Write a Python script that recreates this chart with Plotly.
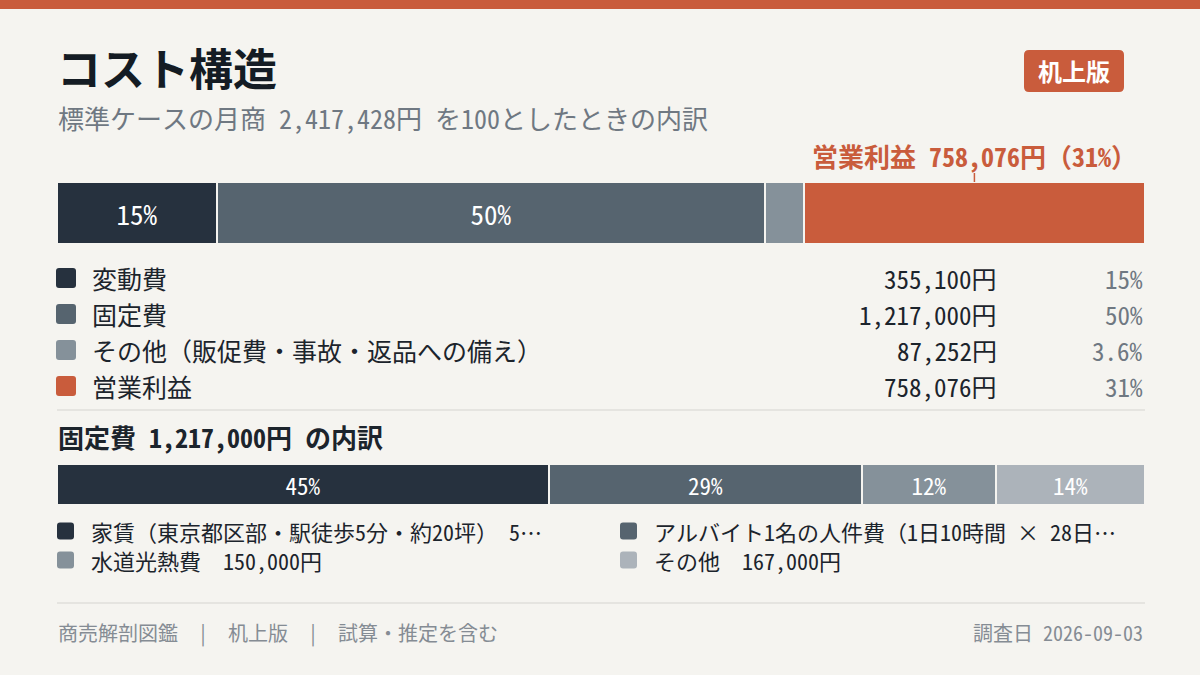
"""Cost structure card: one stacked bar for monthly sales, one for fixed-cost breakdown."""

import plotly.graph_objects as go

W, H = 1200, 675
FONT = "Noto Sans Mono CJK JP, Noto Sans CJK JP, sans-serif"

# top bar: monthly sales split (yen)
cost_labels = ["変動費", "固定費", "その他（販促費・事故・返品への備え）", "営業利益"]
cost_values = [355100, 1217000, 87252, 758076]
cost_pct_text = ["15%", "50%", "3.6%", "31%"]
cost_bar_text = ["15%", "50%", "", ""]
cost_colors = ["#26313e", "#56646f", "#85919a", "#c95c3c"]

# bottom bar: fixed-cost breakdown (yen)
fixed_labels = [
    "家賃（東京都区部・駅徒歩5分・約20坪）　5…",
    "アルバイト1名の人件費（1日10時間 × 28日…",
    "水道光熱費　150,000円",
    "その他　167,000円",
]
fixed_values = [550000, 350000, 150000, 167000]
fixed_bar_text = ["45%", "29%", "12%", "14%"]
fixed_colors = ["#26313e", "#56646f", "#85919a", "#acb3ba"]

monthly_sales = sum(cost_values)
fixed_total = cost_values[1]

INK = "#1c242c"
GRAY = "#6f7882"
ORANGE = "#c95c3c"
BG = "#f5f4f0"


def px(x):
    return x / W


def py(y):
    return 1 - y / H


def rounded(x0, y0, x1, y1, r):
    # rounded rect path in paper coords, input in pixels (y down)
    a, b, c, d = px(x0), px(x1), py(y0), py(y1)
    rx, ry = r / W, r / H
    return (f"M{a + rx},{c} L{b - rx},{c} Q{b},{c} {b},{c - ry} L{b},{d + ry} "
            f"Q{b},{d} {b - rx},{d} L{a + rx},{d} Q{a},{d} {a},{d + ry} "
            f"L{a},{c - ry} Q{a},{c} {a + rx},{c} Z")


fig = go.Figure()

for lab, val, txt, col in zip(cost_labels, cost_values, cost_bar_text, cost_colors):
    fig.add_trace(go.Bar(
        x=[val], y=[0], orientation="h", width=1, name=lab,
        marker=dict(color=col, line=dict(color=BG, width=2)),
        text=[txt], textposition="inside", insidetextanchor="middle",
        textfont=dict(color="white", size=27, family=FONT),
        xaxis="x", yaxis="y", showlegend=False, hoverinfo="skip",
    ))

for lab, val, txt, col in zip(fixed_labels, fixed_values, fixed_bar_text, fixed_colors):
    fig.add_trace(go.Bar(
        x=[val], y=[0], orientation="h", width=1, name=lab,
        marker=dict(color=col, line=dict(color=BG, width=2)),
        text=[txt], textposition="inside", insidetextanchor="middle",
        textfont=dict(color="white", size=23, family=FONT),
        xaxis="x2", yaxis="y2", showlegend=False, hoverinfo="skip",
    ))

axis_off = dict(showgrid=False, zeroline=False, showticklabels=False, fixedrange=True)
fig.update_layout(
    width=W, height=H,
    margin=dict(l=0, r=0, t=0, b=0),
    paper_bgcolor=BG, plot_bgcolor="rgba(0,0,0,0)",
    barmode="stack", bargap=0,
    font=dict(family=FONT, color=INK),
    xaxis=dict(domain=[px(57), px(1145)], range=[0, monthly_sales], anchor="y", **axis_off),
    yaxis=dict(domain=[py(244), py(182)], range=[-0.5, 0.5], anchor="x", **axis_off),
    xaxis2=dict(domain=[px(57), px(1145)], range=[0, fixed_total], anchor="y2", **axis_off),
    yaxis2=dict(domain=[py(505), py(464)], range=[-0.5, 0.5], anchor="x2", **axis_off),
)

ann = []
shapes = []

# header stripe
shapes.append(dict(type="rect", xref="paper", yref="paper", x0=0, x1=1, y0=py(9), y1=1,
                   fillcolor=ORANGE, line_width=0))

ann.append(dict(text="コスト構造", x=px(55), y=py(67), xanchor="left", yanchor="middle",
                font=dict(size=44, color="#141c24", weight=600)))
ann.append(dict(text=f"標準ケースの月商 {monthly_sales:,}円 を100としたときの内訳",
                x=px(56), y=py(117), xanchor="left", yanchor="middle",
                font=dict(size=26, color=GRAY)))

# badge
shapes.append(dict(type="path", xref="paper", yref="paper", path=rounded(1024, 50, 1124, 92, 5),
                   fillcolor=ORANGE, line_width=0))
ann.append(dict(text="<b>机上版</b>", x=px(1074), y=py(71), xanchor="center", yanchor="middle",
                font=dict(size=24, color="white")))

# profit callout over the last segment
profit_mid = sum(cost_values[:3]) + cost_values[3] / 2
ann.append(dict(text=f"<b>営業利益 {cost_values[3]:,}円（{cost_pct_text[3]}）</b>",
                xref="x", x=profit_mid, y=py(155), xanchor="center", yanchor="middle",
                font=dict(size=26, color=ORANGE)))
shapes.append(dict(type="line", xref="x", yref="paper", x0=profit_mid, x1=profit_mid,
                   y0=py(182), y1=py(173), line=dict(color=ORANGE, width=1.5)))

# legend rows with values
row_y = [278, 314, 350, 386]
for lab, val, pct, col, yy in zip(cost_labels, cost_values, cost_pct_text, cost_colors, row_y):
    shapes.append(dict(type="path", xref="paper", yref="paper",
                       path=rounded(56, yy - 10, 76, yy + 10, 3), fillcolor=col, line_width=0))
    ann.append(dict(text=lab, x=px(90), y=py(yy), xanchor="left", yanchor="middle",
                    font=dict(size=25, color=INK)))
    ann.append(dict(text=f"{val:,}円", x=px(999), y=py(yy), xanchor="right", yanchor="middle",
                    font=dict(size=25, color=INK)))
    ann.append(dict(text=pct, x=px(1145), y=py(yy), xanchor="right", yanchor="middle",
                    font=dict(size=25, color=GRAY)))

for yy in (410, 603):
    shapes.append(dict(type="line", xref="paper", yref="paper", x0=px(57), x1=px(1145),
                       y0=py(yy), y1=py(yy), line=dict(color="#d6d4cf", width=1.2)))

ann.append(dict(text=f"<b>固定費 {fixed_total:,}円 の内訳</b>", x=px(56), y=py(436),
                xanchor="left", yanchor="middle", font=dict(size=26, color=INK)))

# fixed-cost legend, two columns
leg_pos = [(57, 531), (620, 531), (57, 560), (620, 560)]
for lab, col, (lx, ly) in zip(fixed_labels, fixed_colors, leg_pos):
    shapes.append(dict(type="path", xref="paper", yref="paper",
                       path=rounded(lx, ly - 8.5, lx + 17, ly + 8.5, 3), fillcolor=col, line_width=0))
    ann.append(dict(text=lab, x=px(lx + 32), y=py(ly), xanchor="left", yanchor="middle",
                    font=dict(size=22, color=INK)))

# footer
sep = "\u00a0\u00a0|\u00a0\u00a0"
ann.append(dict(text=sep.join(["商売解剖図鑑", "机上版", "試算・推定を含む"]), x=px(56), y=py(632),
                xanchor="left", yanchor="middle", font=dict(size=20, color="#858c94")))
ann.append(dict(text="調査日 2026-09-03", x=px(1145), y=py(632), xanchor="right",
                yanchor="middle", font=dict(size=20, color="#858c94")))

for a in ann:
    a.setdefault("xref", "paper")
    a.setdefault("yref", "paper")
    a["showarrow"] = False
fig.update_layout(annotations=ann, shapes=shapes)

# drop the browser's default body margin so the card fills the window
fig.write_html("out.html", config={"displayModeBar": False},
               post_script="document.body.style.margin='0';")
